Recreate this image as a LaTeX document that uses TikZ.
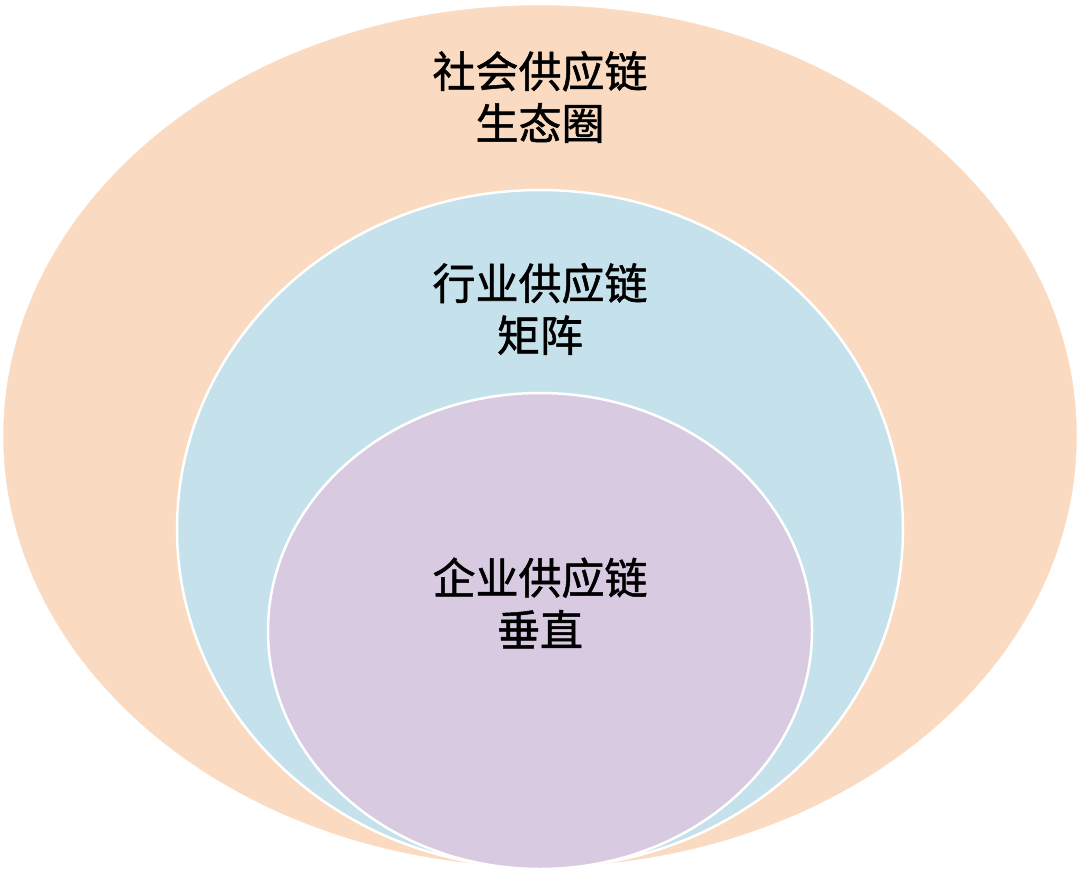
\documentclass[tikz,border=0pt]{standalone}
\usepackage{fontspec}
\newfontfamily\cjk[FakeBold=1.2]{Noto Sans CJK SC}
\definecolor{peach}{RGB}{250,219,193}
\definecolor{lblue}{RGB}{197,226,236}
\definecolor{lav}{RGB}{216,203,225}
\begin{document}
\begin{tikzpicture}[x=1pt,y=-1pt,
  ring/.style={draw=white,line width=2.5pt},
  lbl/.style={font=\cjk\fontsize{43}{52}\selectfont,align=center,text=black}]
\useasboundingbox (0,0) rectangle (1080,873);
\fill[white] (0,0) rectangle (1080,873);
\path[ring,fill=peach] (540,436) ellipse [x radius=538,y radius=432];
\path[ring,fill=lblue] (540,529) ellipse [x radius=363,y radius=339];
\path[ring,fill=lav] (540,631) ellipse [x radius=272,y radius=238];
\node[lbl] (outer) at (540,97) {社会供应链\\生态圈};
\node[lbl] (middle) at (540,309) {行业供应链\\矩阵};
\node[lbl] (inner) at (540,603) {企业供应链\\垂直};
\end{tikzpicture}
\end{document}
